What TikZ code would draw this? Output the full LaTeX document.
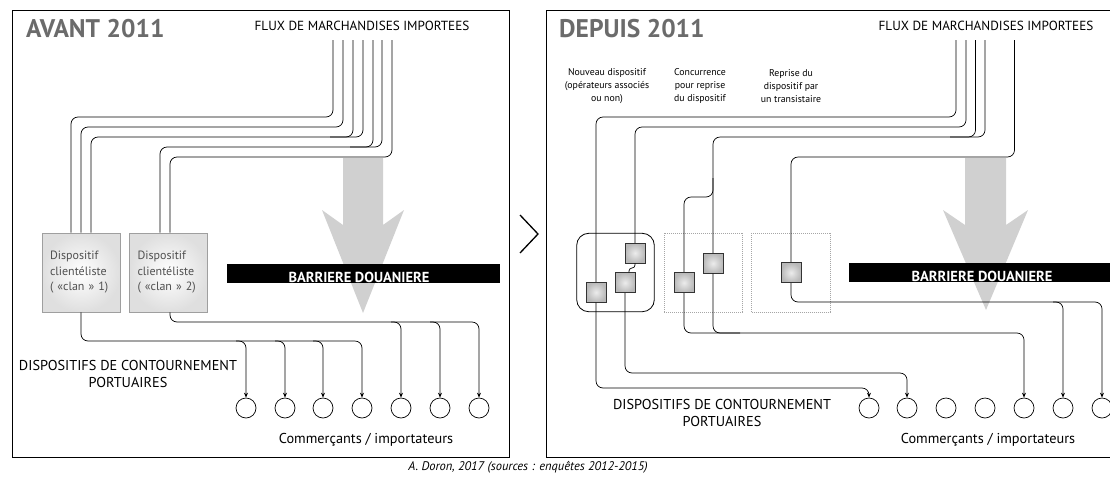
\documentclass[tikz,border=0pt]{standalone}
\usepackage{fontspec}
\setmainfont{PT Sans}
\usetikzlibrary{arrows.meta,calc}
\definecolor{titlegray}{HTML}{6B6B6B}
\definecolor{arrowgray}{HTML}{D0D0D0}
\definecolor{boxtext}{HTML}{505050}
\begin{document}
\begin{tikzpicture}[x=1pt,y=-1pt,
  flow/.style={line width=0.7pt, rounded corners=7pt},
  flowar/.style={flow, -{Stealth[length=5pt,width=4pt]}},
  circ/.style={circle, draw, line width=0.7pt, minimum size=20pt, inner sep=0pt},
  clanbox/.style={draw=gray!75, line width=0.8pt, inner color=white, outer color=gray!25,
     minimum width=78pt, minimum height=79pt, text width=62pt, align=left,
     inner xsep=8pt, inner ysep=0pt, font=\fontsize{12}{15.5}\selectfont, text=boxtext},
  sq/.style={draw=black!80, line width=0.6pt, minimum size=20pt, inner sep=0pt,
     inner color=gray!15, outer color=gray!55},
  grp/.style={draw, line width=0.8pt, rounded corners=12pt, minimum width=77.6pt, minimum height=78.4pt},
  dotbox/.style={draw=gray!70, line width=0.6pt, dash pattern=on 1pt off 1pt, minimum width=78.4pt, minimum height=79pt},
  title/.style={font=\bfseries\fontsize{25.5}{25.5}\selectfont, text=titlegray, inner sep=0pt, anchor=west},
  flux/.style={font=\fontsize{13.2}{13.2}\selectfont, inner sep=0pt},
  big/.style={font=\fontsize{14.3}{17.5}\selectfont, inner sep=0pt, align=center},
  small/.style={font=\fontsize{9.8}{13}\selectfont, inner sep=0pt, align=center},
  bar/.style={fill=black, minimum height=19pt, inner sep=0pt},
  bartext/.style={text=white, font=\bfseries\fontsize{14.5}{14.5}\selectfont, inner sep=0pt, anchor=base}
]
\useasboundingbox (0,0) rectangle (1110,477);
\clip (0,0) rectangle (1110,477);

% frames
\draw[line width=1pt] (12,10) rectangle (509,457);
\draw[line width=1pt] (546,10) rectangle (1125,457);
\draw[line width=1.3pt] (520,215) -- (538,234) -- (520,253);

% ===== LEFT PANEL =====
\node[title] (tA) at (26,29) {AVANT 2011};
\node[flux] (fA) at (362,26) {FLUX DE MARCHANDISES IMPORTEES};

\fill[arrowgray] (343,158) -- (343,225) -- (322,210) -- (363,313) -- (404,210) -- (383,225) -- (383,158) -- cycle;

\node[bar, minimum width=273pt] (barA) at (363.5,273.5) {};
\begin{scope}
\clip (barA.south west) rectangle (barA.north east);
\node[bartext] (btA) at (359,282.5) {BARRIERE DOUANIERE};
\end{scope}

\node[clanbox] (box1) at (81,272.5) {Dispositif\\clientéliste\\( «clan » 1)};
\node[clanbox] (box2) at (168.5,272.5) {Dispositif\\clientéliste\\( «clan » 2)};

\foreach \i/\x in {1/333,2/343,3/353,4/363,5/373,6/382,7/392}
  \coordinate (a\i) at (\x,40);
\draw[flow] (a1) |- (71,117) -- (71,0 |- box1.north);
\draw[flow] (a2) |- (81,127) -- (box1.north);
\draw[flow] (a3) |- (91,137) -- (91,0 |- box1.north);
\draw[flow] (a4) |- (330,137);
\draw[flow] (a5) |- (160,147) -- (160,0 |- box2.north);
\draw[flow] (a6) |- (350,147);
\draw[flow] (a7) |- (170,157) -- (170,0 |- box2.north);

\foreach \i/\x in {1/246,2/285,3/323,4/362,5/401,6/440,7/479}
  \node[circ] (ci\i) at (\x,408) {};

\draw[flowar] (box1.south) |- (ci4.north |- 0,341) -- (ci4.north);
\foreach \i/\x in {1/246,2/285,3/323}
  \draw[flowar] (\x-10,341) -- (\x,341) -- (ci\i.north);
\draw[flowar] (170,0 |- box2.south) |- (ci7.north |- 0,322) -- (ci7.north);
\foreach \i/\x in {5/401,6/440}
  \draw[flowar] (\x-10,322) -- (\x,322) -- (ci\i.north);

\node[big] (dA) at (128,374) {DISPOSITIFS DE CONTOURNEMENT\\PORTUAIRES};
\node[big] (cA) at (366,440) {Commerçants / importateurs};

% ===== RIGHT PANEL =====
\node[title] (tB) at (559,29) {DEPUIS 2011};
\node[flux] (fB) at (986,26) {FLUX DE MARCHANDISES IMPORTEES};

\node[small] (l1) at (607,86) {Nouveau dispositif\\(opérateurs associés\\ou non)};
\node[small] (l2) at (700,86) {Concurrence\\pour reprise\\du dispositif};
\node[small] (l3) at (791,86) {Reprise du\\dispositif par\\un transistaire};

\fill[arrowgray] (965,158) -- (965,225) -- (943,210) -- (986,310) -- (1028,210) -- (1006,225) -- (1006,158) -- cycle;

\node[bar, minimum width=266pt] (barB) at (982,272.5) {};
\begin{scope}
\clip (barB.south west) rectangle (barB.north east);
\node[bartext] (btB) at (982,281.5) {BARRIERE DOUANIERE};
\end{scope}

\node[grp] (g1) at (615.5,272.5) {};
\node[dotbox] (g2) at (703.5,272.5) {};
\node[dotbox] (g3) at (790.9,272.5) {};

\foreach \i/\x in {1/956,2/966,3/975.5,4/985,5/1014.5}
  \coordinate (b\i) at (\x,40);
\coordinate (br) at (713,178);

\draw[flow] (b1) |- (596,117) -- (596,282);
\draw[flow] (b2) |- (635,127) -- (635,243);
\draw[flow] (b3) |- (713,137) -- (713,253);
\draw[flow] (b4) |- (950,137);
\draw[flow] (br) |- (684,197) -- (684,272);
\draw[flow] (b5) |- (791,157) -- (791,262);

\node[sq] (sqA) at (635,253) {};
\node[sq] (sqB) at (625,282.7) {};
\node[sq] (sqC) at (596,292.3) {};
\node[sq] (sqD) at (684,282.7) {};
\node[sq] (sqE) at (713,263.3) {};
\node[sq] (sqF) at (791,272.7) {};

\draw[flow, rounded corners=3pt] (sqA.south) -- (635,268) -- (629,268) -- (629,0 |- sqB.north);

\foreach \i/\x in {1/869,2/907,3/946,4/985,5/1024,6/1063,7/1102}
  \node[circ] (cj\i) at (\x,408) {};

\draw[flowar] (sqC.south) |- (cj1.north |- 0,388) -- (cj1.north);
\draw[flowar] (sqB.south) |- (cj2.north |- 0,373) -- (cj2.north);
\draw[flowar] (sqD.south) |- (cj5.north |- 0,333) -- (cj5.north);
\draw[flow] (sqE.south) |- (740,333);
\draw[flowar] (sqF.south) |- (cj7.north |- 0,302) -- (cj7.north);
\draw[flowar] (1053,302) -- (1063,302) -- (cj6.north);

\node[big] (dB) at (722,413) {DISPOSITIFS DE CONTOURNEMENT\\PORTUAIRES};
\node[big] (cB) at (988,440) {Commerçants / importateurs};

% caption
\node[font=\itshape\fontsize{12.5}{12.5}\selectfont, inner sep=0pt] (cap) at (528,467) {A. Doron, 2017 (sources : enquêtes 2012-2015)};
\end{tikzpicture}
\end{document}
